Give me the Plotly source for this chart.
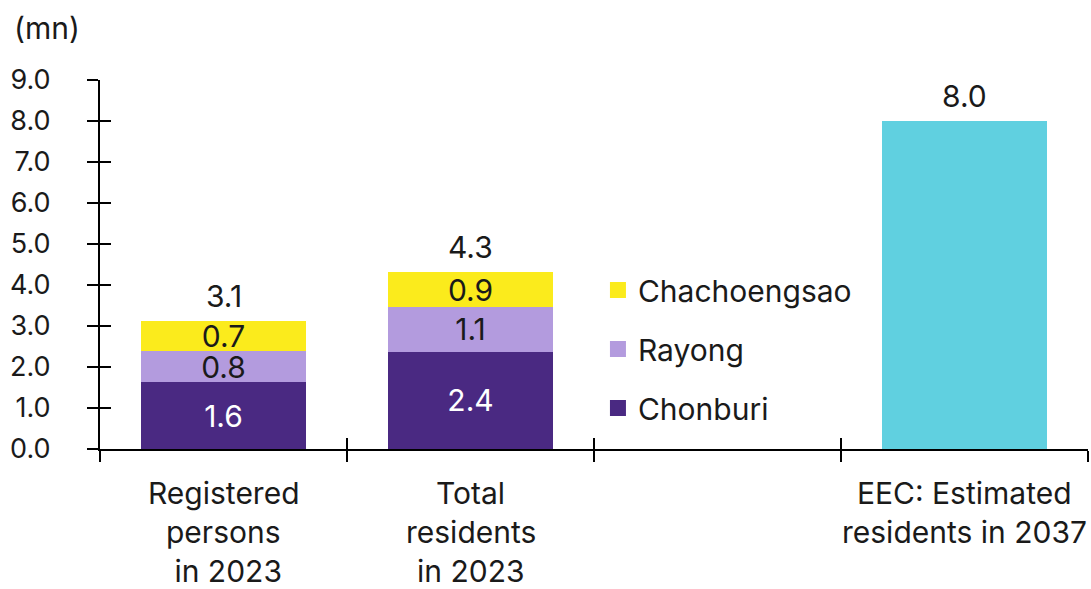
import plotly.graph_objects as go

# Categories along the x axis (one slot left empty for the legend)
categories = ["Registered persons in 2023", "Total residents in 2023", "gap", "EEC: Estimated residents in 2037"]
label_lines = [["Registered", "persons", " in 2023"], ["Total", "residents", "in 2023"], [], ["EEC: Estimated", "residents in 2037"]]

# Population by province (mn)
stack_cats = ["Registered persons in 2023", "Total residents in 2023"]
chonburi = [1.63, 2.37]
rayong = [0.76, 1.09]
chachoengsao = [0.73, 0.86]

eec_cat = ["EEC: Estimated residents in 2037"]
eec_2037 = [8.0]

totals_cats = stack_cats + eec_cat
totals = [round(a + b + c, 2) for a, b, c in zip(chonburi, rayong, chachoengsao)] + eec_2037

C_CHON = "#4A2982"
C_RAY = "#B39BDE"
C_CHA = "#FBEB1C"
C_EEC = "#60D0E0"
INK = "#1a1a1a"
FONT = "Inter"
FS = 30       # labels, legend, values
FS_TICK = 27  # y-axis tick labels

fig = go.Figure()

def seg(name, vals, color, txtcolor):
    fig.add_bar(
        x=stack_cats, y=vals, name=name, marker=dict(color=color, line=dict(width=0)),
        text=[f"{v:.1f}" for v in vals], textposition="inside", insidetextanchor="middle",
        constraintext="none", textfont=dict(color=txtcolor, size=FS, family=FONT),
        showlegend=False, hoverinfo="skip", width=0.668,
    )

seg("Chonburi", chonburi, C_CHON, "white")
seg("Rayong", rayong, C_RAY, INK)
seg("Chachoengsao", chachoengsao, C_CHA, INK)

fig.add_bar(x=eec_cat, y=eec_2037, marker=dict(color=C_EEC, line=dict(width=0)),
            showlegend=False, hoverinfo="skip", width=0.668)

# Totals above each bar
for cat, tot in zip(totals_cats, totals):
    fig.add_annotation(x=cat, y=tot, text=f"{tot:.1f}", showarrow=False, yanchor="middle",
                       yshift=25, font=dict(size=FS, color=INK, family=FONT))

# Legend entries (square swatches)
for i, (name, color) in enumerate([("Chachoengsao", C_CHA), ("Rayong", C_RAY), ("Chonburi", C_CHON)]):
    fig.add_scatter(x=[None], y=[None], mode="markers", name=name, legendgroup=f"g{i}",
                    marker=dict(symbol="square", size=20, color=color))

# Helper trace so the overlay axes are rendered
fig.add_scatter(x=[None], y=[None], xaxis="x2", yaxis="y2", showlegend=False, hoverinfo="skip")

# Category labels, one line at a time
for cat, lines in zip(categories, label_lines):
    for j, line in enumerate(lines):
        fig.add_annotation(x=cat, xref="x", y=0, yref="paper", yanchor="middle",
                           yshift=-44 - 39 * j, text=line, showarrow=False,
                           font=dict(size=FS, color=INK, family=FONT))

# Unit label
fig.add_annotation(x=-0.089, xref="paper", xanchor="left", y=1.0, yref="paper",
                   yanchor="middle", yshift=52, text="(mn)", showarrow=False,
                   font=dict(size=FS, color=INK, family=FONT))

axis_common = dict(linecolor="black", tickcolor="black", tickwidth=2, ticklen=11)

fig.update_layout(
    width=1091, height=589,
    margin=dict(l=100, r=3, t=80, b=140),
    paper_bgcolor="white", plot_bgcolor="white",
    barmode="stack",
    font=dict(family=FONT, size=FS, color=INK),
    xaxis=dict(type="category", categoryorder="array", categoryarray=categories,
               range=[-0.5, 3.5], showticklabels=False, ticks="outside", tickson="boundaries",
               showline=True, linewidth=2, showgrid=False, zeroline=False, **axis_common),
    xaxis2=dict(overlaying="x", range=[-0.5, 3.5], tickvals=[-0.5, 0.5, 1.5, 2.5, 3.5],
                ticks="inside", showticklabels=False, showline=False, showgrid=False,
                zeroline=False, side="bottom", anchor="y", **axis_common),
    yaxis=dict(range=[0, 9], dtick=1, tickformat=".1f", ticks="outside", showline=True,
               linewidth=2, showgrid=False, zeroline=False, ticklabelstandoff=31,
               tickfont=dict(size=FS_TICK, color=INK, family=FONT), **axis_common),
    yaxis2=dict(overlaying="y", range=[0, 9], dtick=1, ticks="inside", showticklabels=False,
                showline=False, showgrid=False, zeroline=False, anchor="x", **axis_common),
    legend=dict(x=0.504, xanchor="left", y=0.271, yanchor="middle",
                font=dict(size=FS, color=INK, family=FONT), tracegroupgap=17,
                itemsizing="trace", bgcolor="rgba(0,0,0,0)"),
    showlegend=True,
)

fig.write_html("out.html")
